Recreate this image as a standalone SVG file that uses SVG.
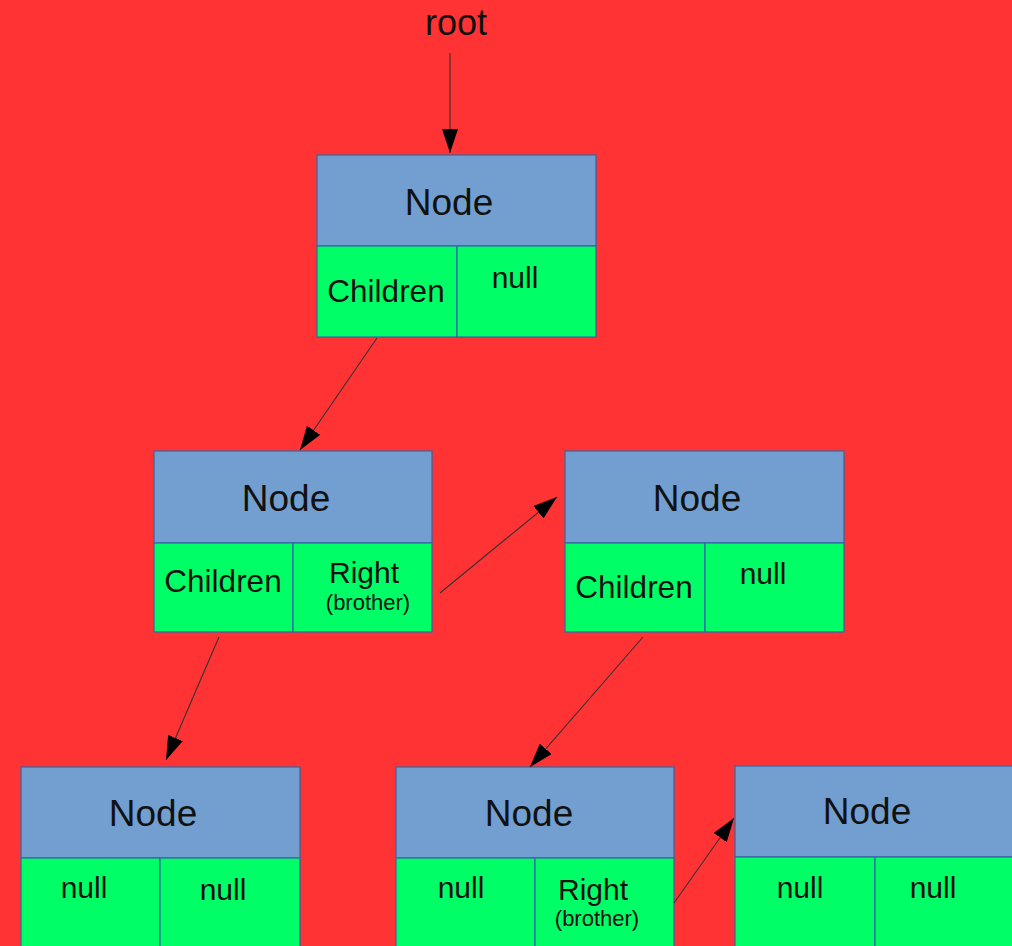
<svg xmlns="http://www.w3.org/2000/svg" width="1012" height="946" viewBox="0 0 1012 946">
<style>
.hd{fill:#729fcf;stroke:#3465a4;stroke-width:1.2}
.cl{fill:#00ff66;stroke:#3465a4;stroke-width:1.2}
text{font-family:"Liberation Sans",Arial,sans-serif;fill:#111;text-anchor:middle}
.t{font-size:37px}
.f{font-size:30px}
.c{font-size:31.5px}
.s{font-size:22px}
.ln{stroke:#333;stroke-width:1.1;fill:none;marker-end:url(#ah)}
</style>
<defs>
<marker id="ah" viewBox="0 0 24 16" refX="24" refY="8" markerWidth="24" markerHeight="16" markerUnits="userSpaceOnUse" orient="auto">
<path d="M0,0 L24,8 L0,16 Z" fill="#000"/>
</marker>
</defs>
<rect x="0" y="0" width="1012" height="946" fill="#ff3333"/>
<text x="456" y="35" style="font-size:36px">root</text>
<g id="node1">
<rect class="hd" x="317" y="155" width="279" height="91"/>
<rect class="cl" x="317" y="246" width="140" height="91"/>
<rect class="cl" x="457" y="246" width="139" height="91"/>
<text class="t" x="449" y="215">Node</text>
<text class="c" x="386" y="302">Children</text>
<text class="f" x="515" y="288">null</text>
</g>
<g id="node2">
<rect class="hd" x="154" y="451" width="278" height="92"/>
<rect class="cl" x="154" y="543" width="139" height="89"/>
<rect class="cl" x="293" y="543" width="139" height="89"/>
<text class="t" x="286" y="511">Node</text>
<text class="c" x="223" y="592">Children</text>
<text class="f" x="364" y="583">Right</text>
<text class="s" x="368" y="610">(brother)</text>
</g>
<g id="node3">
<rect class="hd" x="565" y="451" width="279" height="92"/>
<rect class="cl" x="565" y="543" width="140" height="89"/>
<rect class="cl" x="705" y="543" width="139" height="89"/>
<text class="t" x="697" y="511">Node</text>
<text class="c" x="634" y="598">Children</text>
<text class="f" x="763" y="584">null</text>
</g>
<g id="node4">
<rect class="hd" x="21" y="767" width="279" height="91"/>
<rect class="cl" x="21" y="858" width="139" height="100"/>
<rect class="cl" x="160" y="858" width="140" height="100"/>
<text class="t" x="153" y="826">Node</text>
<text class="f" x="84" y="898">null</text>
<text class="f" x="223" y="900">null</text>
</g>
<g id="node5">
<rect class="hd" x="396" y="767" width="278" height="91"/>
<rect class="cl" x="396" y="858" width="139" height="100"/>
<rect class="cl" x="535" y="858" width="139" height="100"/>
<text class="t" x="529" y="826">Node</text>
<text class="f" x="461" y="898">null</text>
<text class="f" x="593" y="900">Right</text>
<text class="s" x="597" y="926">(brother)</text>
</g>
<g id="node6">
<rect class="hd" x="735" y="766" width="280" height="91"/>
<rect class="cl" x="735" y="857" width="140" height="100"/>
<rect class="cl" x="875" y="857" width="140" height="100"/>
<text class="t" x="867" y="824">Node</text>
<text class="f" x="800" y="898">null</text>
<text class="f" x="933" y="898">null</text>
</g>
<g id="connectors">
<line class="ln" x1="450" y1="53" x2="450" y2="153"/>
<line class="ln" x1="377" y1="338" x2="300" y2="450"/>
<line class="ln" x1="440" y1="593" x2="557" y2="497"/>
<line class="ln" x1="219" y1="637" x2="166" y2="760"/>
<line class="ln" x1="643" y1="637" x2="530" y2="767"/>
<line class="ln" x1="674" y1="903" x2="734" y2="818"/>
</g>
</svg>
